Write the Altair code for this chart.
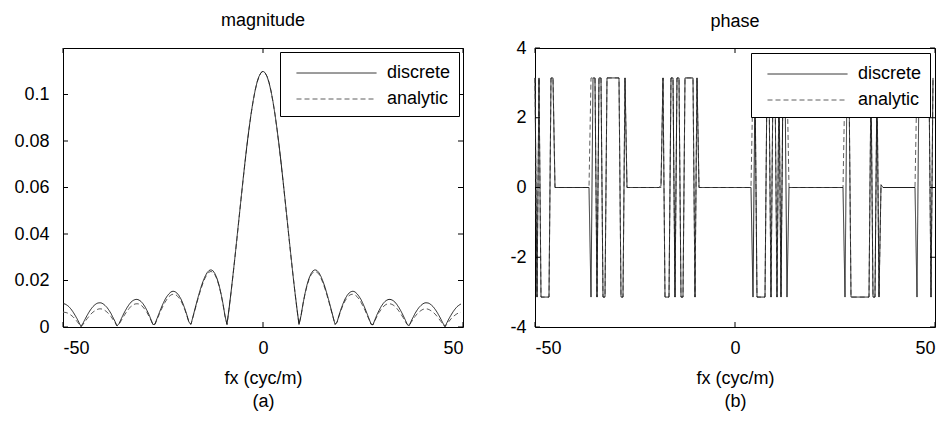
import altair as alt
import pandas as pd

# frequency samples (cyc/m)
FX = [
    -50.0, -49.5, -49.0, -48.5, -48.0, -47.5, -47.0, -46.5, -46.0, -45.5,
    -45.0, -44.5, -44.0, -43.5, -43.0, -42.5, -42.0, -41.5, -41.0, -40.5,
    -40.0, -39.5, -39.0, -38.5, -38.0, -37.5, -37.0, -36.5, -36.0, -35.5,
    -35.0, -34.5, -34.0, -33.5, -33.0, -32.5, -32.0, -31.5, -31.0, -30.5,
    -30.0, -29.5, -29.0, -28.5, -28.0, -27.5, -27.0, -26.5, -26.0, -25.5,
    -25.0, -24.5, -24.0, -23.5, -23.0, -22.5, -22.0, -21.5, -21.0, -20.5,
    -20.0, -19.5, -19.0, -18.5, -18.0, -17.5, -17.0, -16.5, -16.0, -15.5,
    -15.0, -14.5, -14.0, -13.5, -13.0, -12.5, -12.0, -11.5, -11.0, -10.5,
    -10.0, -9.5, -9.0, -8.5, -8.0, -7.5, -7.0, -6.5, -6.0, -5.5,
    -5.0, -4.5, -4.0, -3.5, -3.0, -2.5, -2.0, -1.5, -1.0, -0.5,
    0.0, 0.5, 1.0, 1.5, 2.0, 2.5, 3.0, 3.5, 4.0, 4.5,
    5.0, 5.5, 6.0, 6.5, 7.0, 7.5, 8.0, 8.5, 9.0, 9.5,
    10.0, 10.5, 11.0, 11.5, 12.0, 12.5, 13.0, 13.5, 14.0, 14.5,
    15.0, 15.5, 16.0, 16.5, 17.0, 17.5, 18.0, 18.5, 19.0, 19.5,
    20.0, 20.5, 21.0, 21.5, 22.0, 22.5, 23.0, 23.5, 24.0, 24.5,
    25.0, 25.5, 26.0, 26.5, 27.0, 27.5, 28.0, 28.5, 29.0, 29.5,
    30.0, 30.5, 31.0, 31.5, 32.0, 32.5, 33.0, 33.5, 34.0, 34.5,
    35.0, 35.5, 36.0, 36.5, 37.0, 37.5, 38.0, 38.5, 39.0, 39.5,
    40.0, 40.5, 41.0, 41.5, 42.0, 42.5, 43.0, 43.5, 44.0, 44.5,
    45.0, 45.5, 46.0, 46.5, 47.0, 47.5, 48.0, 48.5, 49.0, 49.5,
]

MAG_DISCRETE = [
    0.0100, 0.0099, 0.0094, 0.0087, 0.0077, 0.0065, 0.0051, 0.0036, 0.0019, 0.0002,
    0.0016, 0.0033, 0.0049, 0.0064, 0.0077, 0.0088, 0.0096, 0.0102, 0.0104, 0.0104,
    0.0100, 0.0093, 0.0084, 0.0072, 0.0058, 0.0041, 0.0024, 0.0005, 0.0014, 0.0033,
    0.0051, 0.0068, 0.0083, 0.0096, 0.0107, 0.0114, 0.0118, 0.0119, 0.0116, 0.0110,
    0.0100, 0.0087, 0.0071, 0.0053, 0.0032, 0.0010, 0.0013, 0.0036, 0.0058, 0.0080,
    0.0100, 0.0118, 0.0132, 0.0143, 0.0151, 0.0154, 0.0152, 0.0146, 0.0135, 0.0120,
    0.0100, 0.0077, 0.0050, 0.0020, 0.0012, 0.0045, 0.0078, 0.0111, 0.0142, 0.0171,
    0.0196, 0.0217, 0.0233, 0.0243, 0.0246, 0.0242, 0.0229, 0.0209, 0.0181, 0.0144,
    0.0100, 0.0048, 0.0011, 0.0077, 0.0148, 0.0224, 0.0303, 0.0385, 0.0468, 0.0550,
    0.0631, 0.0710, 0.0784, 0.0852, 0.0915, 0.0969, 0.1015, 0.1052, 0.1078, 0.1094,
    0.1100, 0.1094, 0.1078, 0.1052, 0.1015, 0.0969, 0.0915, 0.0852, 0.0784, 0.0710,
    0.0631, 0.0550, 0.0468, 0.0385, 0.0303, 0.0224, 0.0148, 0.0077, 0.0011, 0.0048,
    0.0100, 0.0144, 0.0181, 0.0209, 0.0229, 0.0242, 0.0246, 0.0243, 0.0233, 0.0217,
    0.0196, 0.0171, 0.0142, 0.0111, 0.0078, 0.0045, 0.0012, 0.0020, 0.0050, 0.0077,
    0.0100, 0.0120, 0.0135, 0.0146, 0.0152, 0.0154, 0.0151, 0.0143, 0.0132, 0.0118,
    0.0100, 0.0080, 0.0058, 0.0036, 0.0013, 0.0010, 0.0032, 0.0053, 0.0071, 0.0087,
    0.0100, 0.0110, 0.0116, 0.0119, 0.0118, 0.0114, 0.0107, 0.0096, 0.0083, 0.0068,
    0.0051, 0.0033, 0.0014, 0.0005, 0.0024, 0.0041, 0.0058, 0.0072, 0.0084, 0.0093,
    0.0100, 0.0104, 0.0104, 0.0102, 0.0096, 0.0088, 0.0077, 0.0064, 0.0049, 0.0033,
    0.0016, 0.0002, 0.0019, 0.0036, 0.0051, 0.0065, 0.0077, 0.0087, 0.0094, 0.0099,
]

MAG_ANALYTIC = [
    0.0064, 0.0063, 0.0061, 0.0057, 0.0051, 0.0044, 0.0035, 0.0024, 0.0013, 0.0001,
    0.0011, 0.0023, 0.0035, 0.0046, 0.0056, 0.0064, 0.0070, 0.0075, 0.0078, 0.0078,
    0.0076, 0.0071, 0.0064, 0.0056, 0.0045, 0.0032, 0.0019, 0.0004, 0.0011, 0.0026,
    0.0041, 0.0055, 0.0068, 0.0079, 0.0089, 0.0095, 0.0099, 0.0100, 0.0099, 0.0094,
    0.0086, 0.0075, 0.0062, 0.0046, 0.0028, 0.0009, 0.0011, 0.0032, 0.0052, 0.0072,
    0.0090, 0.0106, 0.0120, 0.0131, 0.0138, 0.0141, 0.0140, 0.0135, 0.0125, 0.0112,
    0.0094, 0.0072, 0.0047, 0.0019, 0.0011, 0.0043, 0.0074, 0.0106, 0.0136, 0.0164,
    0.0189, 0.0210, 0.0226, 0.0236, 0.0239, 0.0235, 0.0224, 0.0205, 0.0177, 0.0142,
    0.0098, 0.0047, 0.0011, 0.0076, 0.0147, 0.0222, 0.0301, 0.0382, 0.0465, 0.0548,
    0.0629, 0.0707, 0.0782, 0.0851, 0.0913, 0.0968, 0.1015, 0.1052, 0.1078, 0.1094,
    0.1100, 0.1094, 0.1078, 0.1052, 0.1015, 0.0968, 0.0913, 0.0851, 0.0782, 0.0707,
    0.0629, 0.0548, 0.0465, 0.0382, 0.0301, 0.0222, 0.0147, 0.0076, 0.0011, 0.0047,
    0.0098, 0.0142, 0.0177, 0.0205, 0.0224, 0.0235, 0.0239, 0.0236, 0.0226, 0.0210,
    0.0189, 0.0164, 0.0136, 0.0106, 0.0074, 0.0043, 0.0011, 0.0019, 0.0047, 0.0072,
    0.0094, 0.0112, 0.0125, 0.0135, 0.0140, 0.0141, 0.0138, 0.0131, 0.0120, 0.0106,
    0.0090, 0.0072, 0.0052, 0.0032, 0.0011, 0.0009, 0.0028, 0.0046, 0.0062, 0.0075,
    0.0086, 0.0094, 0.0099, 0.0100, 0.0099, 0.0095, 0.0089, 0.0079, 0.0068, 0.0055,
    0.0041, 0.0026, 0.0011, 0.0004, 0.0019, 0.0032, 0.0045, 0.0056, 0.0064, 0.0071,
    0.0076, 0.0078, 0.0078, 0.0075, 0.0070, 0.0064, 0.0056, 0.0046, 0.0035, 0.0023,
    0.0011, 0.0001, 0.0013, 0.0024, 0.0035, 0.0044, 0.0051, 0.0057, 0.0061, 0.0063,
]

P = 3.1416
PHASE_DISCRETE = [
    P, -P, P, -P, -P, -P, -P, -P, P, P,
    0, 0, 0, 0, 0, 0, 0, 0, 0, 0,
    0, 0, 0, 0, 0, 0, 0, 0, -P, P,
    P, -P, P, P, -P, -P, P, P, P, P,
    P, P, P, -P, -P, P, 0, 0, 0, 0,
    0, 0, 0, 0, 0, 0, 0, 0, 0, 0,
    0, 0, 0, 0.06, P, -P, -P, -P, P, P,
    -P, P, P, -P, -P, P, P, P, P, P,
    -P, P, 0, 0, 0, 0, 0, 0, 0, 0,
    0, 0, 0, 0, 0, 0, 0, 0, 0, 0,
    0, 0, 0, 0, 0, 0, 0, 0, 0, -P,
    P, -P, -P, -P, -P, -P, P, P, -P, P,
    P, -P, P, -P, P, P, -P, 0, 0, 0,
    0, 0, 0, 0, 0, 0, 0, 0, 0, 0,
    0, 0, 0, 0, 0, 0, 0, 0, 0, 0,
    0, 0, 0, 0, 0, -P, P, P, -P, -P,
    -P, -P, -P, -P, -P, -P, -P, -P, P, -P,
    -P, P, -P, 0.08, 0, 0, 0, 0, 0, 0,
    0, 0, 0, 0, 0, 0, 0, 0, 0, 0,
    0, -P, P, P, P, P, P, P, -P, P,
]

PHASE_ANALYTIC = [
    P, -P, P, -P, -P, -P, -P, -P, P, P,
    0, 0, 0, 0, 0, 0, 0, 0, 0, 0,
    0, 0, 0, 0, 0, 0, 0, 0, P, P,
    P, -P, P, P, -P, -P, P, P, P, P,
    P, P, P, -P, -P, P, 0, 0, 0, 0,
    0, 0, 0, 0, 0, 0, 0, 0, 0, 0,
    0, 0, 0, 0, P, -P, -P, -P, P, P,
    -P, P, P, -P, -P, P, P, P, P, P,
    -P, P, 0, 0, 0, 0, 0, 0, 0, 0,
    0, 0, 0, 0, 0, 0, 0, 0, 0, 0,
    0, 0, 0, 0, 0, 0, 0, 0, 0, P,
    P, -P, -P, -P, -P, -P, P, P, -P, P,
    P, -P, P, -P, P, P, P, 0, 0, 0,
    0, 0, 0, 0, 0, 0, 0, 0, 0, 0,
    0, 0, 0, 0, 0, 0, 0, 0, 0, 0,
    0, 0, 0, 0, 0, P, P, P, -P, -P,
    -P, -P, -P, -P, -P, -P, -P, -P, P, -P,
    -P, P, -P, 0, 0, 0, 0, 0, 0, 0,
    0, 0, 0, 0, 0, 0, 0, 0, 0, 0,
    0, P, P, P, P, P, P, P, -P, P,
]

X_TICKS = [-50, 0, 50]
MAG_TICKS = [0, 0.02, 0.04, 0.06, 0.08, 0.1]
PHASE_TICKS = [-4, -2, 0, 2, 4]
SERIES = ["discrete", "analytic"]

W, H = 400, 279
FONT = "Liberation Sans"
FS = 18


def panel(disc, anal, ydomain, yticks, title, sub, yextent, ylabpad, legoff, toff):
    n = len(FX)
    df = pd.DataFrame({
        "fx": FX + FX,
        "val": disc + anal,
        "series": ["discrete"] * n + ["analytic"] * n,
    })
    xs = alt.Scale(domain=[-50, 50], nice=False, zero=False)
    ys = alt.Scale(domain=ydomain, nice=False, zero=False)
    leg = alt.Legend(
        title=None, orient="top-right", offset=legoff,
        fillColor="white", strokeColor="black", padding=8,
        symbolType="M-0.36,0L6.04,0", symbolSize=625, symbolStrokeWidth=1,
        labelFont=FONT, labelFontSize=FS, labelColor="black",
        labelOffset=73, rowPadding=4,
    )
    color = alt.Color("series:N", sort=SERIES,
                      scale=alt.Scale(domain=SERIES, range=["#1e1e1e", "#5e5e5e"]),
                      legend=leg)
    dash = alt.StrokeDash("series:N", sort=SERIES,
                          scale=alt.Scale(domain=SERIES, range=[[1, 0], [5, 3]]),
                          legend=leg)
    xaxis = alt.Axis(values=X_TICKS, title=["fx (cyc/m)", sub],
                     labelExpr="'' + datum.value", labelPadding=12,
                     titlePadding=12, titleLineHeight=23)
    yaxis = alt.Axis(values=yticks, title=None, labelExpr="'' + datum.value",
                     labelPadding=ylabpad, minExtent=yextent, maxExtent=yextent)
    X = alt.X("fx:Q", scale=xs, axis=xaxis)
    Y = alt.Y("val:Q", scale=ys, axis=yaxis)

    base = alt.Chart(df)
    analytic = base.transform_filter(alt.datum.series == "analytic").mark_line(
        strokeWidth=1).encode(x=X, y=Y, color=color, strokeDash=dash)
    discrete = base.transform_filter(alt.datum.series == "discrete").mark_line(
        strokeWidth=1).encode(x=X, y=Y, color=color, strokeDash=dash)

    xt = alt.Chart(pd.DataFrame({"fx": X_TICKS}))
    yt = alt.Chart(pd.DataFrame({"val": yticks}))
    tick = dict(color="black", strokeWidth=1)
    t_bottom = xt.mark_rule(**tick).encode(x=X, y=alt.value(H), y2=alt.value(H - 5))
    t_top = xt.mark_rule(**tick).encode(x=X, y=alt.value(0), y2=alt.value(5))
    t_left = yt.mark_rule(**tick).encode(y=Y, x=alt.value(0), x2=alt.value(5))
    t_right = yt.mark_rule(**tick).encode(y=Y, x=alt.value(W - 5), x2=alt.value(W))

    return alt.layer(analytic, discrete, t_bottom, t_top, t_left, t_right).properties(
        width=W, height=H,
        title=alt.TitleParams(text=title, font=FONT, fontSize=FS,
                              fontWeight="normal", color="black", offset=toff),
    )


left = panel(MAG_DISCRETE, MAG_ANALYTIC, [0, 0.12], MAG_TICKS, "magnitude", "(a)", 47, 14, 4, 18)
right = panel(PHASE_DISCRETE, PHASE_ANALYTIC, [-4, 4], PHASE_TICKS, "phase", "(b)", 40, 9, 5, 8)

chart = alt.hconcat(left, right, spacing=72, bounds="flush").resolve_scale(
    color="independent", strokeDash="independent", x="independent", y="independent"
).resolve_legend(
    color="independent", strokeDash="independent"
).configure_view(
    stroke="black", strokeWidth=1
).configure_axis(
    labelFont=FONT, titleFont=FONT, labelFontSize=FS, titleFontSize=FS,
    labelColor="black", titleColor="black", titleFontWeight="normal",
    grid=False, domain=False, ticks=False, tickSize=0,
).properties(
    padding={"left": 5, "top": 3, "right": 0, "bottom": 2},
    background="white",
)

chart.save("out.html", embed_options={"renderer": "svg", "actions": False})
